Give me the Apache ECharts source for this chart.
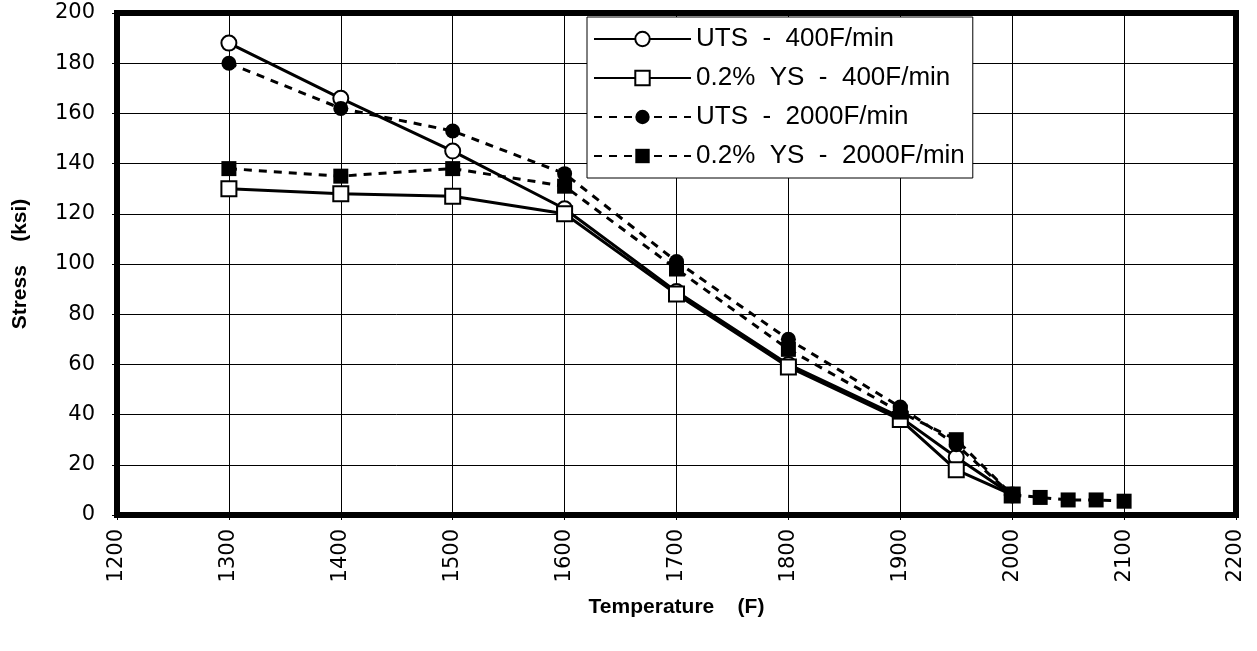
<!DOCTYPE html>
<html>
<head>
<meta charset="utf-8">
<script src="https://cdn.jsdelivr.net/npm/echarts@6/dist/echarts.min.js"></script>
<style>
html,body{margin:0;padding:0;background:#fff;}
#chart{width:1257px;height:651px;}
</style>
</head>
<body>
<div id="chart"></div>
<script>
const temps400 = [1300, 1400, 1500, 1600, 1700, 1800, 1900, 1950, 2000];
const uts400 = [188, 166, 145, 122, 89, 60, 39, 23, 8];
const ys400 = [130, 128, 127, 120, 88, 59, 38, 18, 8];
const temps2000 = [1300, 1400, 1500, 1600, 1700, 1800, 1900, 1950, 2000, 2025, 2050, 2075, 2100];
const uts2000 = [180, 162, 153, 136, 101, 70, 43, 28, 8];
const ys2000 = [138, 135, 138, 131, 98, 66, 41, 30, 8, 7, 6, 6, 5.5];
const seriesNames = ['UTS  -  400F/min', '0.2%  YS  -  400F/min', 'UTS  -  2000F/min', '0.2%  YS  -  2000F/min'];

const pairs = (xs, ys) => ys.map((v, i) => [xs[i], v]);

const font = 'Liberation Sans, Arial, sans-serif';
const chart = echarts.init(document.getElementById('chart'), null, {renderer: 'canvas'});

function mk(name, data, symbol, filled, dashed) {
  return {
    name: name,
    type: 'line',
    data: data,
    symbol: symbol,
    symbolSize: 15,
    showSymbol: true,
    animation: false,
    itemStyle: {color: filled ? '#000' : '#fff', borderColor: '#000', borderWidth: filled ? 0 : 2},
    lineStyle: {color: '#000', width: 3, type: dashed ? [8, 7] : 'solid'},
    emphasis: {disabled: true}
  };
}

chart.setOption({
  backgroundColor: '#fff',
  animation: false,
  grid: {left: 117, right: 21, top: 13, bottom: 136, show: true, borderColor: '#000', borderWidth: 6, backgroundColor: 'transparent'},
  legend: {
    orient: 'vertical',
    left: 587,
    top: 17,
    backgroundColor: '#fff',
    borderColor: '#000',
    borderWidth: 1,
    padding: [9, 8, 9, 6],
    itemGap: 13,
    itemWidth: 97,
    itemHeight: 18,
    textStyle: {fontFamily: font, fontSize: 26, color: '#000'},
    data: seriesNames
  },
  xAxis: {
    type: 'value',
    min: 1200, max: 2200, interval: 100,
    name: 'Temperature    (F)',
    nameLocation: 'middle',
    nameGap: 82,
    nameTextStyle: {fontFamily: font, fontSize: 21, fontWeight: 'bold', color: '#000'},
    axisLine: {show: true, lineStyle: {color: '#000', width: 6}},
    axisTick: {show: true, length: 5, lineStyle: {color: '#000', width: 1}},
    axisLabel: {rotate: 90, fontFamily: 'DejaVu Sans, sans-serif', fontSize: 21, color: '#000', margin: 14, formatter: v => String(v)},
    splitLine: {show: true, lineStyle: {color: '#000', width: 1}}
  },
  yAxis: {
    type: 'value',
    min: 0, max: 200, interval: 20,
    name: 'Stress    (ksi)',
    nameLocation: 'middle',
    nameGap: 86,
    nameRotate: 90,
    nameTextStyle: {fontFamily: font, fontSize: 21, fontWeight: 'bold', color: '#000'},
    axisLine: {show: true, lineStyle: {color: '#000', width: 6}},
    axisTick: {show: true, length: 5, lineStyle: {color: '#000', width: 1}},
    axisLabel: {fontFamily: 'DejaVu Sans, sans-serif', fontSize: 21, color: '#000', margin: 22, formatter: v => String(v)},
    splitLine: {show: true, lineStyle: {color: '#000', width: 1}}
  },
  series: [
    mk(seriesNames[0], pairs(temps400, uts400), 'circle', false, false),
    mk(seriesNames[1], pairs(temps400, ys400), 'rect', false, false),
    mk(seriesNames[2], pairs(temps2000, uts2000), 'circle', true, true),
    mk(seriesNames[3], pairs(temps2000, ys2000), 'rect', true, true)
  ]
});
</script>
</body>
</html>
